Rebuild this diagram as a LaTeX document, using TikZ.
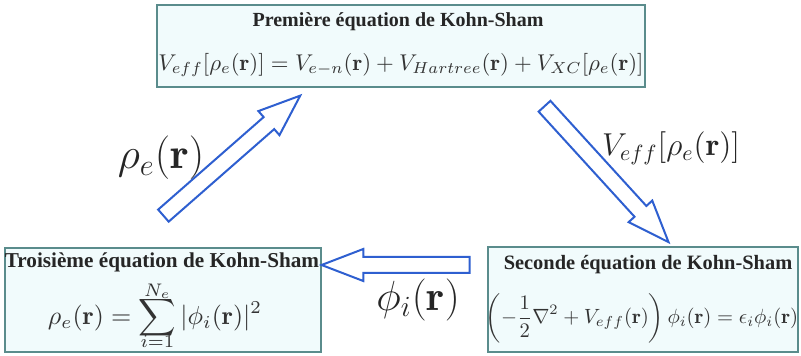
\documentclass[tikz,border=0pt]{standalone}
\usepackage{amsmath}
\usepackage{fontspec}
\newfontfamily\titlefont{Liberation Serif}
\usetikzlibrary{shapes.arrows}
\definecolor{boxedge}{HTML}{5A8C8C}
\definecolor{boxfill}{HTML}{F1FBFC}
\definecolor{arrowblue}{HTML}{2E5FD0}
\begin{document}
\begin{tikzpicture}[x=0.5pt,y=-0.5pt,
  ksbox/.style={draw=boxedge, fill=boxfill, line width=1pt, inner sep=0pt},
  kstitle/.style={font=\titlefont\bfseries\fontsize{10}{12}\selectfont, text=black!85, inner sep=0pt},
  kseq/.style={text=black!80, inner sep=0pt},
  blockarrow/.style={single arrow, draw=arrowblue, fill=white, line width=1pt, inner xsep=0pt, inner ysep=3.5pt, minimum width=0pt, single arrow head extend=4pt, single arrow tip angle=42},
  flowlabel/.style={inner sep=0pt, text=black!85}]
\useasboundingbox (0,0) rectangle (801,356);
% boxes
\node[ksbox, minimum width=244pt, minimum height=41pt] (top) at (401,46) {};
\node[ksbox, minimum width=158pt, minimum height=52pt] (left) at (163,300) {};
\node[ksbox, minimum width=155pt, minimum height=52.5pt] (right) at (643,299.5) {};
% texts
\node[kstitle] (toptitle) at (398,22) {Première équation de Kohn-Sham};
\node[kseq] (topeq) at (401,65) {\scalebox{1.14}{$V_{eff}[\rho_e(\mathbf{r})] = V_{e-n}(\mathbf{r}) + V_{Hartree}(\mathbf{r}) + V_{XC}[\rho_e(\mathbf{r})]$}};
\node[kstitle, font=\titlefont\bfseries\fontsize{10.6}{12}\selectfont] (lefttitle) at (162,262) {Troisième équation de Kohn-Sham};
\node[kseq] (lefteq) at (155,323) {\scalebox{1.3}{$\displaystyle \rho_e(\mathbf{r}) = \sum\limits_{\smash{\raisebox{2.5pt}{$\scriptstyle i=1$}}}^{\smash{\raisebox{-1.7pt}{$\scriptstyle N_e$}}} |\phi_i(\mathbf{r})|^2$}};
\node[kstitle, font=\titlefont\bfseries\fontsize{10.2}{12}\selectfont] (righttitle) at (648,265) {Seconde équation de Kohn-Sham};
\node[kseq] (righteq) at (642,318) {\scalebox{1.03}{$\displaystyle \left(-\frac{1}{2}\nabla^2 + V_{eff}(\mathbf{r})\right)\phi_i(\mathbf{r}) = \epsilon_i\phi_i(\mathbf{r})$}};
% block arrows
\coordinate (lt) at (155,223); \coordinate (lh) at (293,102);
\coordinate (rt) at (537,98);  \coordinate (rh) at (662,235);
\coordinate (bt) at (480,265); \coordinate (bh) at (332,265);
\path (lt) -- (lh) node[midway, sloped, allow upside down, blockarrow, minimum height=91pt] (arrowrho) {};
\path (rt) -- (rh) node[midway, sloped, allow upside down, blockarrow, minimum height=92pt] (arrowveff) {};
\path (bt) -- (bh) node[midway, sloped, allow upside down, blockarrow, minimum height=74pt] (arrowphi) {};
% labels
\node[flowlabel, font=\fontsize{17.28}{20}\selectfont] (labrho) at (161,158) {\scalebox{1.26}{$\rho_e(\mathbf{r})$}};
\node[flowlabel, font=\fontsize{14.4}{17}\selectfont] (labveff) at (671,148) {\scalebox{1.1}{$V_{eff}[\rho_e(\mathbf{r})]$}};
\node[flowlabel, font=\fontsize{17.28}{20}\selectfont] (labphi) at (418,300) {\scalebox{1.22}{$\phi_i(\mathbf{r})$}};
\end{tikzpicture}
\end{document}
